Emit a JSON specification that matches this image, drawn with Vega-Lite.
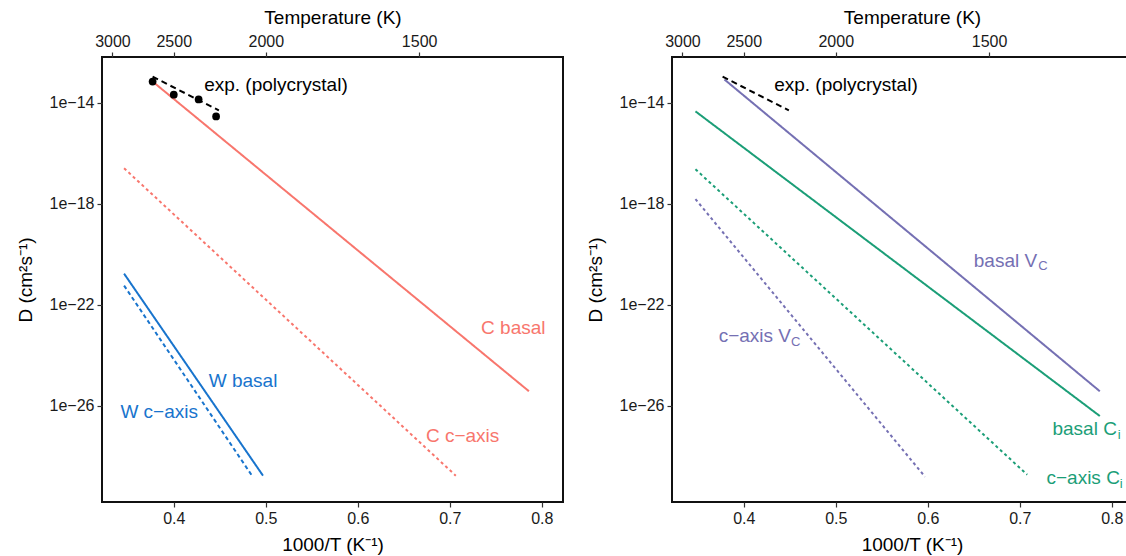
{
  "$schema": "https://vega.github.io/schema/vega-lite/v6.json",
  "padding": {"left": 15, "top": 7, "right": 0, "bottom": 0},
  "spacing": 21,
  "resolve": {"scale": {"color": "independent", "strokeDash": "independent"}},
  "datasets": {
    "left_lines": [
      {"series": "C basal", "x": 0.377, "D": 6.76e-14},
      {"series": "C basal", "x": 0.786, "D": 3.80e-26},
      {"series": "C c-axis", "x": 0.346, "D": 2.51e-17},
      {"series": "C c-axis", "x": 0.7065, "D": 1.74e-29},
      {"series": "W basal", "x": 0.346, "D": 1.70e-21},
      {"series": "W basal", "x": 0.497, "D": 1.74e-29},
      {"series": "W c-axis", "x": 0.346, "D": 5.75e-22},
      {"series": "W c-axis", "x": 0.485, "D": 1.74e-29}
    ],
    "exp_line": [
      {"series": "exp", "x": 0.377, "D": 1.05e-13},
      {"series": "exp", "x": 0.449, "D": 4.90e-15}
    ],
    "exp_points": [
      {"series": "exp", "x": 0.377, "D": 6.76e-14},
      {"series": "exp", "x": 0.400, "D": 2.04e-14},
      {"series": "exp", "x": 0.427, "D": 1.32e-14},
      {"series": "exp", "x": 0.446, "D": 2.82e-15}
    ],
    "left_labels": [
      {"series": "exp", "label": "exp. (polycrystal)", "x": 0.433, "D": 5.0e-14},
      {"series": "C basal", "label": "C basal", "x": 0.734, "D": 1.26e-23},
      {"series": "C c-axis", "label": "C c−axis", "x": 0.674, "D": 6.3e-28},
      {"series": "W basal", "label": "W basal", "x": 0.438, "D": 1.0e-25},
      {"series": "W c-axis", "label": "W c−axis", "x": 0.342, "D": 5.75e-27}
    ],
    "right_lines": [
      {"series": "basal VC", "x": 0.379, "D": 8.13e-14},
      {"series": "basal VC", "x": 0.787, "D": 3.80e-26},
      {"series": "basal Ci", "x": 0.3475, "D": 4.47e-15},
      {"series": "basal Ci", "x": 0.787, "D": 3.98e-27},
      {"series": "c-axis Ci", "x": 0.3475, "D": 2.29e-17},
      {"series": "c-axis Ci", "x": 0.708, "D": 1.91e-29},
      {"series": "c-axis VC", "x": 0.3475, "D": 1.51e-18},
      {"series": "c-axis VC", "x": 0.597, "D": 1.58e-29}
    ],
    "right_labels": [
      {"series": "exp", "label": "exp. (polycrystal)", "x": 0.433, "D": 5.0e-14},
      {"series": "basal VC", "label": "basal V", "x": 0.65, "D": 5.62e-21},
      {"series": "c-axis VC", "label": "c−axis V", "x": 0.3727, "D": 5.62e-24},
      {"series": "basal Ci", "label": "basal C", "x": 0.7355, "D": 1.26e-27},
      {"series": "c-axis Ci", "label": "c−axis C", "x": 0.729, "D": 1.35e-29}
    ],
    "right_subs": [
      {"series": "basal VC", "label": "C", "x": 0.720, "D": 3.3e-21},
      {"series": "c-axis VC", "label": "C", "x": 0.4513, "D": 3.3e-24},
      {"series": "basal Ci", "label": "i", "x": 0.8066, "D": 7.4e-28},
      {"series": "c-axis Ci", "label": "i", "x": 0.8087, "D": 8.0e-30}
    ]
  },
  "hconcat": [
    {
      "width": 461,
      "height": 445,
      "resolve": {"axis": {"x": "independent"}},
      "layer": [
        {
          "data": {"name": "left_lines"},
          "mark": {"type": "line", "strokeWidth": 2},
          "encoding": {
            "x": {"field": "x", "type": "quantitative", "scale": {"domain": [0.322, 0.823], "nice": false, "zero": false},
                  "axis": {"orient": "bottom", "values": [0.4, 0.5, 0.6, 0.7, 0.8], "format": ".1f", "title": "1000/T (K⁻¹)", "titlePadding": 9}},
            "y": {"field": "D", "type": "quantitative", "scale": {"type": "log", "domain": [1.585e-30, 6.31e-13], "nice": false},
                  "axis": {"values": [1e-26, 1e-22, 1e-18, 1e-14], "labelExpr": "'1e\u2212' + abs(round(log(datum.value)/LN10))", "title": "D (cm²s⁻¹)", "titlePadding": 14}},
            "color": {"field": "series", "type": "nominal", "legend": null,
                      "scale": {"domain": ["exp", "C basal", "C c-axis", "W basal", "W c-axis"], "range": ["#000000", "#F8766D", "#F8766D", "#1874CD", "#1874CD"]}},
            "strokeDash": {"field": "series", "type": "nominal", "legend": null,
                           "scale": {"domain": ["exp", "C basal", "C c-axis", "W basal", "W c-axis"], "range": [[6, 4], [1, 0], [3, 3], [1, 0], [4, 3]]}}
          }
        },
        {
          "data": {"name": "exp_line"},
          "mark": {"type": "line", "strokeWidth": 2, "strokeDash": [6, 4], "color": "black"},
          "encoding": {
            "x": {"field": "x", "type": "quantitative",
                  "axis": {"orient": "top", "values": [0.333333333, 0.4, 0.5, 0.666666667], "labelExpr": "'' + round(1000/datum.value)", "title": "Temperature (K)", "titlePadding": 6}},
            "y": {"field": "D", "type": "quantitative"}
          }
        },
        {
          "data": {"name": "exp_points"},
          "mark": {"type": "point", "filled": true, "size": 60, "color": "black", "opacity": 1},
          "encoding": {
            "x": {"field": "x", "type": "quantitative", "axis": null},
            "y": {"field": "D", "type": "quantitative"}
          }
        },
        {
          "data": {"name": "left_labels"},
          "mark": {"type": "text", "align": "left", "baseline": "middle", "fontSize": 19, "font": "Liberation Sans"},
          "encoding": {
            "x": {"field": "x", "type": "quantitative", "axis": null},
            "y": {"field": "D", "type": "quantitative"},
            "text": {"field": "label"},
            "color": {"field": "series", "type": "nominal", "legend": null}
          }
        }
      ]
    },
    {
      "width": 480,
      "height": 445,
      "resolve": {"axis": {"x": "independent"}},
      "layer": [
        {
          "data": {"name": "right_lines"},
          "mark": {"type": "line", "strokeWidth": 2},
          "encoding": {
            "x": {"field": "x", "type": "quantitative", "scale": {"domain": [0.322, 0.8437], "nice": false, "zero": false},
                  "axis": {"orient": "bottom", "values": [0.4, 0.5, 0.6, 0.7, 0.8], "format": ".1f", "title": "1000/T (K⁻¹)", "titlePadding": 9}},
            "y": {"field": "D", "type": "quantitative", "scale": {"type": "log", "domain": [1.585e-30, 6.31e-13], "nice": false},
                  "axis": {"values": [1e-26, 1e-22, 1e-18, 1e-14], "labelExpr": "'1e\u2212' + abs(round(log(datum.value)/LN10))", "title": "D (cm²s⁻¹)", "titlePadding": 14}},
            "color": {"field": "series", "type": "nominal", "legend": null,
                      "scale": {"domain": ["exp", "basal VC", "c-axis VC", "basal Ci", "c-axis Ci"], "range": ["#000000", "#7570B3", "#7570B3", "#1B9E77", "#1B9E77"]}},
            "strokeDash": {"field": "series", "type": "nominal", "legend": null,
                           "scale": {"domain": ["exp", "basal VC", "c-axis VC", "basal Ci", "c-axis Ci"], "range": [[6, 4], [1, 0], [3, 3], [1, 0], [3, 3]]}}
          }
        },
        {
          "data": {"name": "exp_line"},
          "mark": {"type": "line", "strokeWidth": 2, "strokeDash": [6, 4], "color": "black"},
          "encoding": {
            "x": {"field": "x", "type": "quantitative",
                  "axis": {"orient": "top", "values": [0.333333333, 0.4, 0.5, 0.666666667], "labelExpr": "'' + round(1000/datum.value)", "title": "Temperature (K)", "titlePadding": 6}},
            "y": {"field": "D", "type": "quantitative"}
          }
        },
        {
          "data": {"name": "right_labels"},
          "mark": {"type": "text", "align": "left", "baseline": "middle", "fontSize": 19, "font": "Liberation Sans"},
          "encoding": {
            "x": {"field": "x", "type": "quantitative", "axis": null},
            "y": {"field": "D", "type": "quantitative"},
            "text": {"field": "label"},
            "color": {"field": "series", "type": "nominal", "legend": null}
          }
        },
        {
          "data": {"name": "right_subs"},
          "mark": {"type": "text", "align": "left", "baseline": "middle", "fontSize": 13, "font": "Liberation Sans"},
          "encoding": {
            "x": {"field": "x", "type": "quantitative", "axis": null},
            "y": {"field": "D", "type": "quantitative"},
            "text": {"field": "label"},
            "color": {"field": "series", "type": "nominal", "legend": null}
          }
        }
      ]
    }
  ],
  "config": {
    "view": {"stroke": "#111111", "strokeWidth": 2},
    "axis": {"domain": false, "grid": false, "tickColor": "#333333", "tickSize": 5, "tickWidth": 1.2,
             "labelFont": "Liberation Sans", "labelFontSize": 16, "labelColor": "#1a1a1a", "labelPadding": 3,
             "titleFont": "Liberation Sans", "titleFontSize": 19, "titleFontWeight": "normal", "titleColor": "#000000"},
    "text": {"font": "Liberation Sans"}
  }
}
